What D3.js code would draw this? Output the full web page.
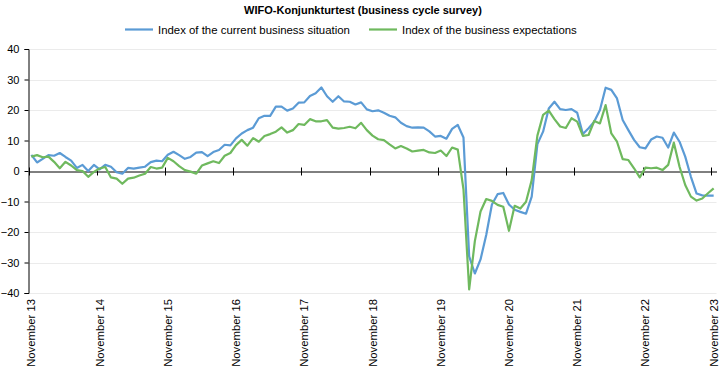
<!DOCTYPE html>
<html><head><meta charset="utf-8">
<script src="https://cdn.jsdelivr.net/npm/d3@7"></script>
<style>
body{margin:0;background:#fff;}
svg text{font-family:"Liberation Sans",Arial,sans-serif;fill:#000;}
</style></head>
<body><svg id="c" width="723" height="376"></svg>
<script>
const title = "WIFO-Konjunkturtest (business cycle survey)";
const seriesNames = ["Index of the current business situation", "Index of the business expectations"];
const seriesColors = ["#5b9bd5", "#6fb95e"];
// monthly categories Nov 2013 .. Nov 2023
const months = d3.timeMonth.range(new Date(2013, 10, 1), new Date(2023, 11, 1));
const tickLabels = ["November 13","November 14","November 15","November 16","November 17","November 18","November 19","November 20","November 21","November 22","November 23"];
const yTicks = [-40,-30,-20,-10,0,10,20,30,40];

const situation = [
5.3,2.8,4.0,5.2,5.0,5.9,4.6,3.4,1.0,2.0,0.0,2.0,
0.5,2.0,1.4,-0.4,-0.9,1.0,0.8,1.1,1.4,2.9,3.4,3.2,
5.3,6.3,5.2,4.0,4.6,6.0,6.2,4.9,6.2,6.9,8.6,8.4,
10.7,12.3,13.4,14.2,17.3,18.1,18.1,21.1,21.1,19.8,20.5,22.4,
22.5,24.6,25.5,27.4,24.5,22.7,24.5,22.8,22.7,21.8,22.5,20.2,
19.6,19.9,19.1,18.1,17.6,15.8,14.7,14.2,14.3,14.2,13.0,11.3,
11.5,10.6,13.8,15.1,11.0,-28.0,-33.6,-29.0,-21.0,-11.0,-7.6,-7.2,
-11.0,-12.7,-13.4,-14.0,-8.4,8.8,12.9,20.5,22.7,20.3,20.0,20.3,
19.1,12.1,14.0,16.2,20.0,27.3,26.6,23.8,16.7,13.4,10.2,7.8,
7.4,10.3,11.3,10.9,7.7,12.6,9.6,4.7,-1.9,-7.4,-8.0,-8.1,
-8.1];
const expectations = [
4.7,5.2,4.5,4.7,3.0,0.9,3.0,1.8,0.3,0.0,-1.9,-0.3,
0.8,1.3,-2.1,-2.5,-4.2,-2.5,-2.2,-1.5,-0.9,1.3,0.8,1.1,
4.3,3.2,1.6,0.3,-0.2,-0.9,1.8,2.5,3.2,2.6,5.0,5.9,
8.5,10.2,8.3,10.8,9.6,11.5,12.1,12.9,14.3,12.6,13.4,15.4,
15.1,17.0,16.3,16.3,16.7,14.2,13.9,14.1,14.5,14.0,15.8,13.4,
11.6,10.4,10.1,8.7,7.4,8.2,7.4,6.4,6.7,6.9,6.1,5.9,
6.7,4.9,7.7,7.0,-6.0,-38.8,-23.0,-13.3,-9.2,-9.8,-11.1,-11.7,
-19.6,-11.4,-12.3,-10.1,-3.0,11.6,18.4,19.8,17.0,14.6,14.1,17.3,
16.2,11.5,11.8,16.4,15.6,21.6,12.3,9.6,3.9,3.6,0.9,-2.1,
1.1,0.9,1.1,0.3,2.0,9.3,1.4,-4.6,-8.4,-9.7,-9.0,-7.3,
-5.7];

const svg = d3.select("#c");
const L = 28.5, R = 716.5, T = 49, B = 293;
const x = d3.scaleBand().domain(months.map((d,i)=>i)).range([L, R]).paddingInner(0).paddingOuter(0);
const y = d3.scaleLinear().domain([-40, 40]).range([B, T]);
const bw = x.bandwidth();
const cx = i => x(i) + bw/2;

// title
svg.append("text").attr("x", 363).attr("y", 14).attr("text-anchor","middle")
  .style("font-size","11px").style("font-weight","bold").text(title);

// legend
const legX = [125, 369];
seriesNames.forEach((n,k)=>{
  svg.append("line").attr("x1",legX[k]).attr("x2",legX[k]+28).attr("y1",29.5).attr("y2",29.5)
    .attr("stroke",seriesColors[k]).attr("stroke-width",2.2);
  svg.append("text").attr("x",legX[k]+33).attr("y",33.5).style("font-size","11.4px").text(n);
});

// gridlines
svg.append("g").selectAll("line").data(yTicks.filter(v=>v!==0)).join("line")
  .attr("x1", L).attr("x2", R).attr("y1", d=>Math.round(y(d))+0.5).attr("y2", d=>Math.round(y(d))+0.5)
  .attr("stroke","#ebebeb").attr("stroke-width",1);

// y axis
const yAxis = d3.axisLeft(y).tickValues(yTicks).tickSize(4).tickPadding(5).tickFormat(d3.format("d"));
const gy = svg.append("g").attr("transform",`translate(${L},0)`).call(yAxis);
gy.select(".domain").attr("stroke","#000");
gy.selectAll(".tick line").attr("stroke","#000");
gy.selectAll(".tick text").style("font-size","11px").style("font-family","'Liberation Sans',Arial,sans-serif").attr("fill","#000");

// zero line with ticks
const novIdx = months.map((d,i)=>i).filter(i=>months[i].getMonth()===10);
const xAxis = d3.axisBottom(x).tickValues(novIdx).tickSize(0).tickFormat(()=> "");
const gx = svg.append("g").attr("transform",`translate(0,${Math.round(y(0))+0.5})`).call(xAxis);
gx.select(".domain").attr("stroke","#000");
gx.selectAll(".tick").remove();
const z = Math.round(y(0))+0.5;
svg.append("g").selectAll("line").data(novIdx).join("line")
  .attr("x1", i=>Math.round(x(i))+0.5).attr("x2", i=>Math.round(x(i))+0.5)
  .attr("y1", z-4).attr("y2", z+4).attr("stroke","#000");

// x labels
svg.append("g").selectAll("text").data(novIdx).join("text")
  .attr("transform", (i,k)=>`translate(${cx(i)+4},${B+6}) rotate(-90)`)
  .attr("text-anchor","end").style("font-size","11.3px")
  .text((i,k)=>tickLabels[k]);

// lines
const line = d3.line().x((d,i)=>cx(i)).y(d=>y(d));
[situation, expectations].forEach((s,k)=>{
  svg.append("path").datum(s).attr("d", line).attr("fill","none")
    .attr("stroke", seriesColors[k]).attr("stroke-width", 2.2).attr("stroke-linejoin","round");
});
</script></body></html>
